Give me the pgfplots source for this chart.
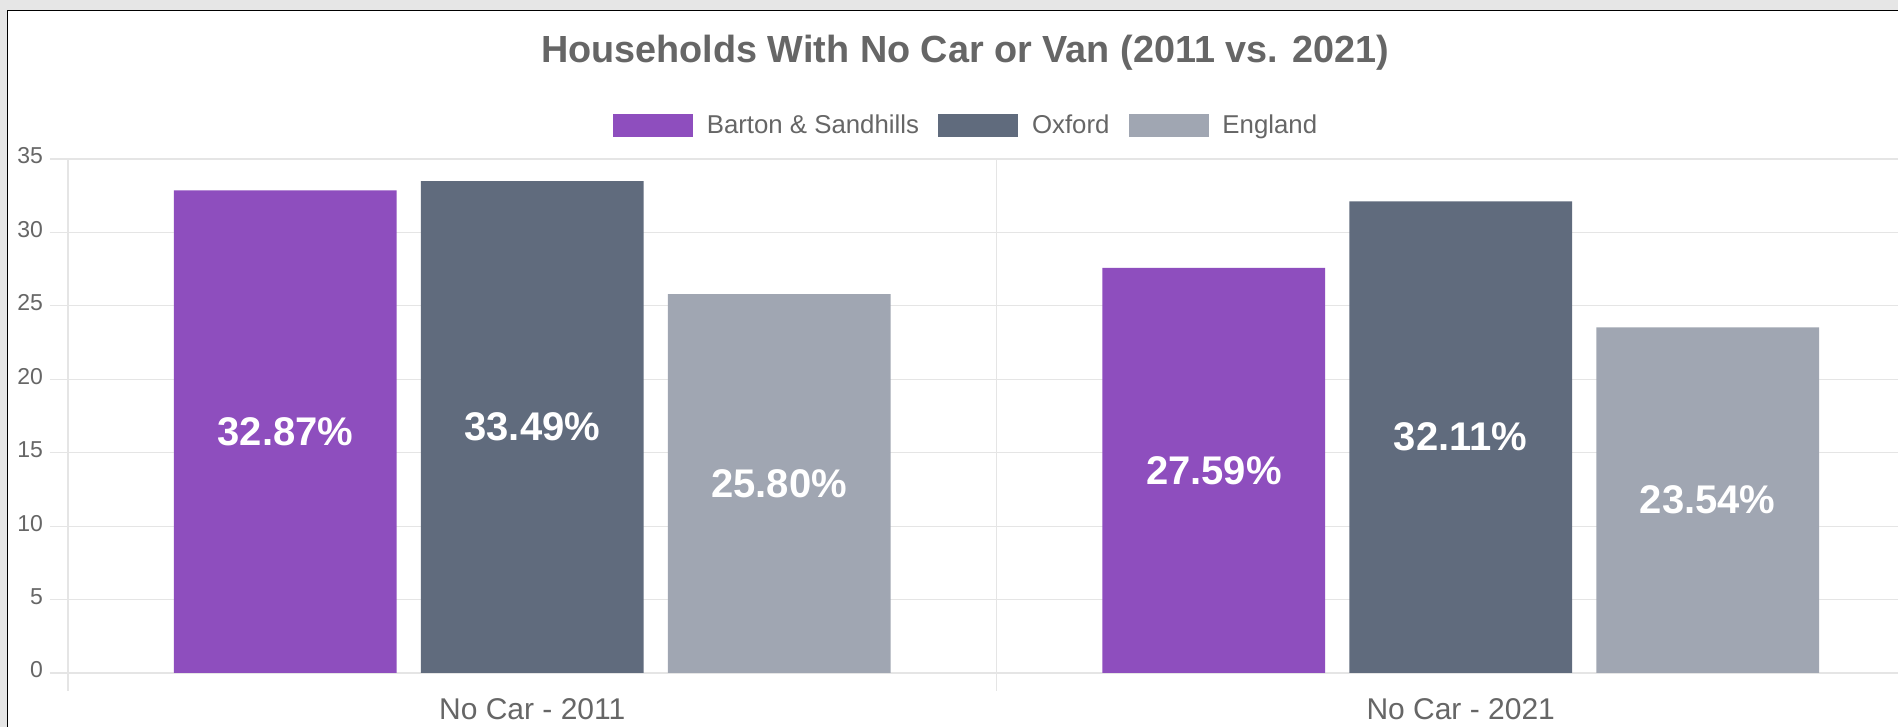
\documentclass[border=0pt]{standalone}
\usepackage{fontspec}
\setmainfont{Liberation Sans}
\usepackage{pgfplots}
\pgfplotsset{compat=1.18}
\definecolor{cPurple}{RGB}{142,78,190}
\definecolor{cDark}{RGB}{96,107,125}
\definecolor{cLight}{RGB}{160,166,178}
\definecolor{cText}{RGB}{102,102,102}
\definecolor{cGrid}{RGB}{229,229,229}
\definecolor{cFrame}{RGB}{230,230,230}
\begin{document}
\begin{tikzpicture}
\fill[white] (-34pt,-27pt) rectangle (915pt,336.5pt);
\begin{axis}[
  at={(0,0)}, anchor=south west,
  scale only axis, width=915pt, height=257pt,
  xmin=-0.5, xmax=1.471, ymin=0, ymax=35,
  axis lines*=left,
  axis line style={draw=cGrid, line width=0.6pt},
  xtick={-0.5,0.5}, xticklabels={},
  extra x ticks={0,1},
  extra x tick labels={No Car - 2011, No Car - 2021},
  extra x tick style={grid=none, major tick length=0pt, tick style={draw=none},
    xticklabel style={yshift=-9pt}},
  ytick={0,5,...,35},
  xmajorgrids, ymajorgrids,
  grid style={draw=cGrid, line width=0.6pt},
  tick align=outside,
  major tick length=9pt,
  tick style={draw=cGrid, line width=0.6pt},
  ticklabel style={text=cText},
  yticklabel style={font=\fontsize{11.5}{13}\selectfont, yshift=1.5pt},
  xticklabel style={font=\fontsize{15}{17}\selectfont},
  /pgf/number format/assume math mode=true,
  legend columns=3,
  legend style={draw=none, fill=none, at={(0.4913,1.0642)}, anchor=center,
    font=\fontsize{12.9}{14}\selectfont, text=cText,
    /tikz/every odd column/.append style={column sep=4.9pt},
    /tikz/every even column/.append style={column sep=7.6pt}},
  legend image code/.code={\fill[#1] (0pt,-5.75pt) rectangle (40pt,5.75pt);},
  clip=false,
]
\addplot[ybar, bar width=111.35pt, bar shift=-123.5pt, fill=cPurple, draw=none] coordinates {(0,32.87) (1,27.59)};
\addlegendentry{Barton \& Sandhills}
\addplot[ybar, bar width=111.35pt, bar shift=0pt, fill=cDark, draw=none] coordinates {(0,33.49) (1,32.11)};
\addlegendentry{Oxford}
\addplot[ybar, bar width=111.35pt, bar shift=123.5pt, fill=cLight, draw=none] coordinates {(0,25.80) (1,23.54)};
\addlegendentry{England}
\addplot[forget plot, only marks, mark=none, nodes near coords, point meta=explicit symbolic,
  every node near coord/.append style={anchor=center, text=white, font=\fontsize{20}{22}\bfseries\selectfont}]
  coordinates {(-0.2659,16.435) [32.87\%] (0.7341,13.795) [27.59\%]
               (0,16.745) [33.49\%] (1,16.055) [32.11\%]
               (0.2659,12.90) [25.80\%] (1.2659,11.77) [23.54\%]};
\end{axis}
\node[anchor=base, font=\fontsize{18.9}{22}\bfseries\selectfont, text=cText] at (448.5pt,305pt) {Households With No Car or Van (2011 vs. 2021)};
\fill[cFrame] (-34pt,331.5pt) rectangle (915pt,336.5pt);
\fill[cFrame] (-34pt,-27pt) rectangle (-30.6pt,336.5pt);
\draw[black, line width=0.75pt] (-30.25pt,-27pt) -- (-30.25pt,331.25pt) -- (915pt,331.25pt);
\pgfresetboundingbox
\path[use as bounding box] (-34pt,-27pt) rectangle (915pt,336.5pt);
\end{tikzpicture}
\end{document}
